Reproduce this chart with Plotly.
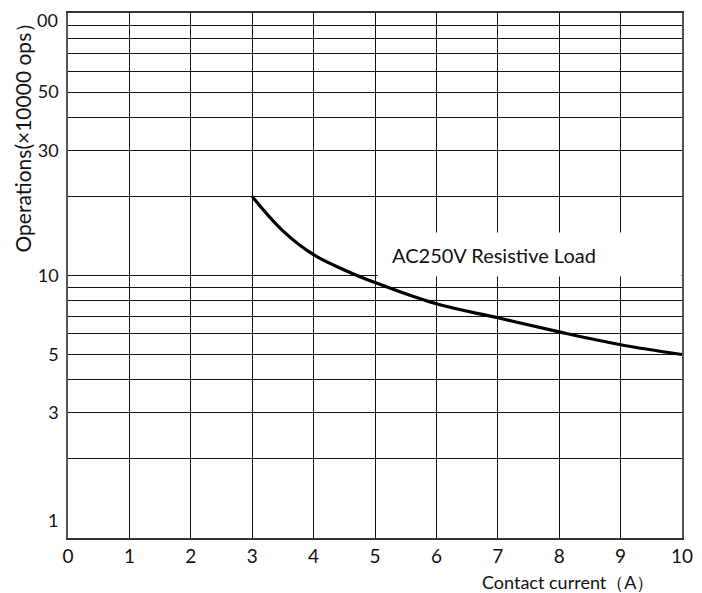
import plotly.graph_objects as go
import math

# ---- data ----
current_a = [3.0, 3.5, 4.0, 4.5, 5.0, 6.0, 7.0, 8.0, 9.0, 10.0]
operations_10k = [20.0, 14.8, 12.0, 10.5, 9.4, 7.8, 6.9, 6.1, 5.45, 5.0]

x_ticks = [0, 1, 2, 3, 4, 5, 6, 7, 8, 9, 10]
x_tick_labels = ["0", "1", "2", "3", "4", "5", "6", "7", "8", "9", "10"]
y_grid = [1, 2, 3, 4, 5, 6, 7, 8, 9, 10, 20, 30, 40, 50, 60, 70, 80, 90, 100]
y_tick_labels = ["1", "", "3", "", "5", "", "", "", "", "10", "", "30", "", "50", "", "", "", "", "00"]

load_label = "AC250V Resistive Load"
x_title = "Contact current（A）"
y_title = "Operations(×10000 ops）"

FONT = "Lato, 'Open Sans', sans-serif"

fig = go.Figure()
fig.add_trace(go.Scatter(
    x=current_a, y=operations_10k, mode="lines",
    line=dict(color="black", width=3.2, shape="spline", smoothing=1.0),
    showlegend=False, hoverinfo="skip"))

ticktext = [t if (t and v not in (1, 100)) else "" for v, t in zip(y_grid, y_tick_labels)]

fig.update_layout(
    width=694, height=585,
    margin=dict(l=60, r=20, t=3, b=55),
    paper_bgcolor="white", plot_bgcolor="white",
    font=dict(family=FONT, color="#111", size=17),
    xaxis=dict(range=[0, 10], tickvals=x_ticks, ticktext=x_tick_labels,
               showgrid=True, gridcolor="#111", gridwidth=1,
               showline=True, linecolor="#333", linewidth=1.5, mirror=True,
               ticks="", zeroline=False, tickfont=dict(size=19), ticklabelstandoff=0),
    yaxis=dict(type="log", range=[0, 2], tickvals=y_grid, ticktext=ticktext,
               showgrid=True, gridcolor="#111", gridwidth=1,
               showline=True, linecolor="#555", linewidth=1.5, mirror=True,
               ticks="", zeroline=False, tickfont=dict(size=18), ticklabelstandoff=4),
)

ann = []
ann.append(dict(text=y_tick_labels[0], x=0, xref="paper", xanchor="right", xshift=-8,
                y=math.log10(y_grid[0]), yref="y", yshift=18, yanchor="middle",
                showarrow=False, font=dict(size=18)))
ann.append(dict(text=y_tick_labels[-1], x=0, xref="paper", xanchor="right", xshift=-8,
                y=math.log10(y_grid[-1]), yref="y", yshift=-7, yanchor="middle",
                showarrow=False, font=dict(size=18)))
box_y = 1.0797
ann.append(dict(text=" ", x=5.03, y=box_y, xref="x", yref="y", xanchor="left", yanchor="middle",
                width=303, height=43, bgcolor="white", borderpad=0, showarrow=False))
ann.append(dict(text=load_label, x=5.25, y=box_y, xref="x", yref="y", xanchor="left", yanchor="middle",
                showarrow=False, font=dict(size=20)))
ann.append(dict(text=x_title, x=1, y=0, xref="paper", yref="paper", xanchor="right", yanchor="middle",
                xshift=-26, yshift=-44, showarrow=False, font=dict(size=18)))
ann.append(dict(text=y_title, textangle=-90, x=0, y=1, xref="paper", yref="paper",
                xanchor="center", yanchor="top", xshift=-46, yshift=3,
                showarrow=False, font=dict(size=21)))
fig.update_layout(annotations=ann)

fig.write_html("out.html")
